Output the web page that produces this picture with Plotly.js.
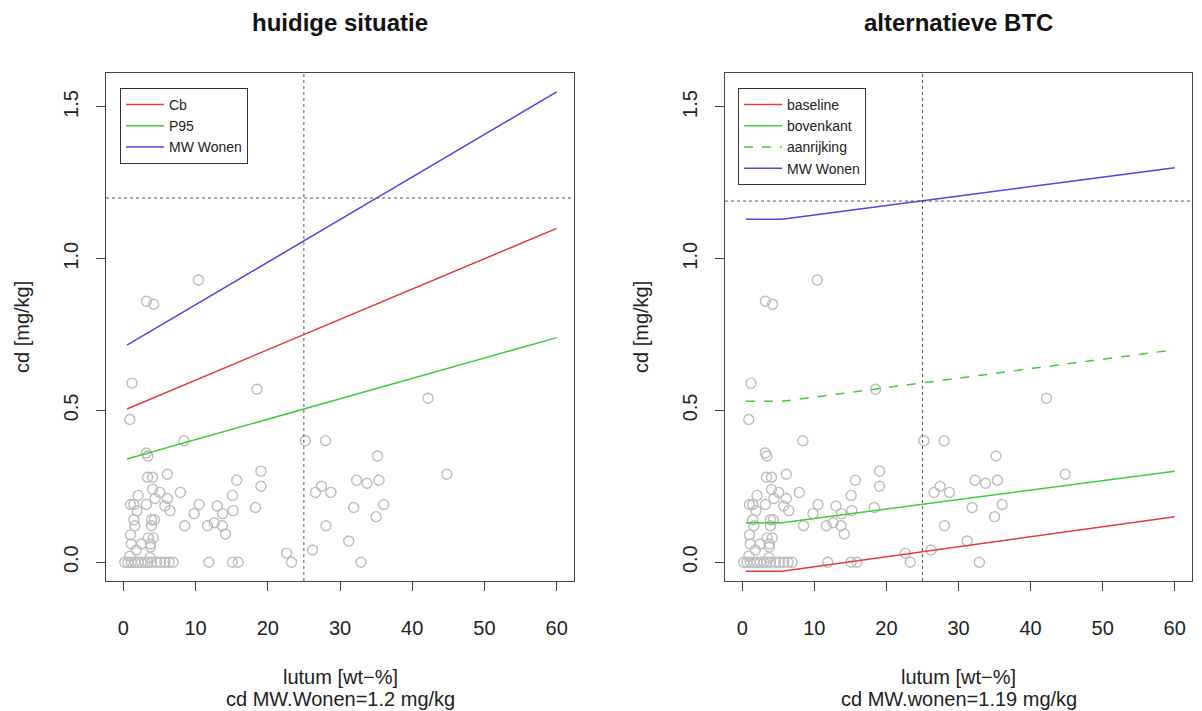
<!DOCTYPE html>
<html><head><meta charset="utf-8">
<script src="https://cdn.plot.ly/plotly-3.0.1.min.js"></script>
<style>body{margin:0;background:#fff}#chart{width:1202px;height:711px}</style>
</head><body><div id="chart"></div>
<script>
// observed samples (same in both panels)
const lutum = [10.4,3.2,4.2,1.2,18.5,42.2,0.9,8.4,25.2,28.0,3.2,3.4,35.2,19.05,6.1,44.8,3.35,4.05,15.7,32.3,35.4,33.75,19.05,27.45,4.05,5.05,7.9,26.6,28.75,2.05,15.1,4.4,6.1,1.0,1.45,3.2,10.5,36.05,5.75,13.0,18.3,31.9,6.45,1.9,15.2,9.8,13.75,35.0,1.45,3.9,4.3,1.6,3.9,8.5,11.65,13.7,28.05,12.6,14.15,1.0,3.45,4.15,31.2,1.1,2.5,3.75,1.8,3.75,26.2,22.6,0.9,3.7,
  0.2,0.65,1.1,1.6,2.05,2.5,3.0,3.4,3.9,4.6,5.15,5.75,6.35,6.9,11.85,15.1,15.9,23.3,32.9];
const cd = [0.93,0.86,0.85,0.59,0.57,0.54,0.47,0.40,0.40,0.40,0.36,0.35,0.35,0.30,0.29,0.29,0.28,0.28,0.27,0.27,0.27,0.26,0.25,0.25,0.24,0.23,0.23,0.23,0.23,0.22,0.22,0.21,0.21,0.19,0.19,0.19,0.19,0.19,0.185,0.185,0.18,0.18,0.17,0.17,0.17,0.16,0.16,0.15,0.14,0.14,0.14,0.12,0.12,0.12,0.12,0.12,0.12,0.13,0.093,0.09,0.08,0.08,0.07,0.06,0.06,0.06,0.04,0.05,0.04,0.03,0.02,0.015,
  0,0,0,0,0,0,0,0,0,0,0,0,0,0,0,0,0,0,0];

// left panel: huidige situatie
const lineXLeft = [0.5, 60];
const cbLeft = [0.505, 1.10];
const p95Left = [0.34, 0.74];
const mwLeft = [0.715, 1.55];

// right panel: alternatieve BTC
const lineXRight = [0.5, 5.5, 60];
const baselineRight = [-0.03, -0.03, 0.15];
const bovenkantRight = [0.13, 0.13, 0.30];
const aanrijkingRight = [0.53, 0.53, 0.70];
const mwRight = [1.13, 1.13, 1.30];

const refLutum = 25;
const refMWLeft = 1.2;
const refMWRight = 1.19;

const xTicks = [0,10,20,30,40,50,60];
const xTickText = ['0','10','20','30','40','50','60'];
const yTicks = [0, 0.5, 1.0, 1.5];
const yTickText = ['0.0','0.5','1.0','1.5'];

const RED = '#E8393A', GREEN = '#3FCC3F', BLUE = '#5A3FE6', PTS = '#BDBDBD';
const FONT = 'Liberation Sans, Arial, Helvetica, sans-serif';

const pts = (xa, ya) => ({x: lutum, y: cd, xaxis: xa, yaxis: ya, type: 'scatter', mode: 'markers',
  marker: {symbol: 'circle-open', size: 10, color: PTS, line: {width: 1.4, color: PTS}}, showlegend: false, hoverinfo: 'skip'});
const ln = (x, y, name, color, xa, ya, legend, dash) => ({x, y, name, xaxis: xa, yaxis: ya, type: 'scatter', mode: 'lines',
  line: {color, width: 1.5, dash: dash || 'solid'}, legend});

const traces = [
  pts('x', 'y'),
  ln(lineXLeft, cbLeft, 'Cb', RED, 'x', 'y', 'legend'),
  ln(lineXLeft, p95Left, 'P95', GREEN, 'x', 'y', 'legend'),
  ln(lineXLeft, mwLeft, 'MW Wonen', BLUE, 'x', 'y', 'legend'),
  pts('x2', 'y2'),
  ln(lineXRight, baselineRight, 'baseline', RED, 'x2', 'y2', 'legend2'),
  ln(lineXRight, bovenkantRight, 'bovenkant', GREEN, 'x2', 'y2', 'legend2'),
  ln(lineXRight, aanrijkingRight, 'aanrijking', GREEN, 'x2', 'y2', 'legend2', 'dash'),
  ln(lineXRight, mwRight, 'MW Wonen', BLUE, 'x2', 'y2', 'legend2')
];

const W = 1202, H = 711;
const yDom = [(H - 581) / H, (H - 73) / H];
const xaxisBase = {range: [-2.4, 62.4], tickvals: xTicks, ticktext: xTickText, ticks: 'outside', ticklen: 9, tickwidth: 1,
  tickcolor: '#444', showline: true, mirror: true, linecolor: '#444', linewidth: 1, showgrid: false, zeroline: false,
  tickfont: {size: 20, color: '#222', family: FONT}, ticklabelstandoff: 20, fixedrange: true};
const yaxisBase = {range: [-0.062, 1.612], tickvals: yTicks, ticktext: yTickText, ticks: 'outside', ticklen: 9, tickwidth: 1,
  tickcolor: '#444', showline: true, mirror: true, linecolor: '#444', linewidth: 1, showgrid: false, zeroline: false,
  tickangle: -90, tickfont: {size: 20, color: '#222', family: FONT}, ticklabelstandoff: 10, domain: yDom, fixedrange: true};

const dotted = {color: '#555', width: 1, dash: 'dot'};
const legendBase = {bgcolor: '#fff', bordercolor: '#333', borderwidth: 1, font: {size: 14, family: FONT, color: '#222'},
  xanchor: 'left', yanchor: 'top', tracegroupgap: 0, itemwidth: 38};

const layout = {
  width: W, height: H, margin: {l: 0, r: 0, t: 0, b: 0}, paper_bgcolor: '#fff', plot_bgcolor: '#fff',
  font: {family: FONT, color: '#222'},
  xaxis: Object.assign({}, xaxisBase, {domain: [106 / W, 574 / W], anchor: 'y'}),
  yaxis: Object.assign({}, yaxisBase, {anchor: 'x'}),
  xaxis2: Object.assign({}, xaxisBase, {domain: [725 / W, 1192 / W], anchor: 'y2'}),
  yaxis2: Object.assign({}, yaxisBase, {anchor: 'x2'}),
  legend: Object.assign({}, legendBase, {x: 120 / W, y: (H - 88) / H}),
  legend2: Object.assign({}, legendBase, {x: 738 / W, y: (H - 88) / H}),
  shapes: [
    {type: 'line', xref: 'x', yref: 'y domain', x0: refLutum, x1: refLutum, y0: 0, y1: 1, line: dotted},
    {type: 'line', xref: 'x domain', yref: 'y', x0: 0, x1: 1, y0: refMWLeft, y1: refMWLeft, line: dotted},
    {type: 'line', xref: 'x2', yref: 'y2 domain', x0: refLutum, x1: refLutum, y0: 0, y1: 1, line: dotted},
    {type: 'line', xref: 'x2 domain', yref: 'y2', x0: 0, x1: 1, y0: refMWRight, y1: refMWRight, line: dotted}
  ],
  annotations: [
    {text: '<b>huidige situatie</b>', xref: 'x domain', yref: 'paper', x: 0.5, y: (H - 22) / H, showarrow: false, font: {size: 24, color: '#111'}, yanchor: 'middle'},
    {text: '<b>alternatieve BTC</b>', xref: 'x2 domain', yref: 'paper', x: 0.5, y: (H - 22) / H, showarrow: false, font: {size: 24, color: '#111'}, yanchor: 'middle'},
    {text: 'lutum [wt−%]', xref: 'x domain', yref: 'paper', x: 0.5, y: (H - 677) / H, showarrow: false, font: {size: 20, color: '#222'}, yanchor: 'middle'},
    {text: 'cd MW.Wonen=1.2 mg/kg', xref: 'x domain', yref: 'paper', x: 0.5, y: (H - 699) / H, showarrow: false, font: {size: 20, color: '#222'}, yanchor: 'middle'},
    {text: 'lutum [wt−%]', xref: 'x2 domain', yref: 'paper', x: 0.5, y: (H - 677) / H, showarrow: false, font: {size: 20, color: '#222'}, yanchor: 'middle'},
    {text: 'cd MW.wonen=1.19 mg/kg', xref: 'x2 domain', yref: 'paper', x: 0.5, y: (H - 699) / H, showarrow: false, font: {size: 20, color: '#222'}, yanchor: 'middle'},
    {text: 'cd [mg/kg]', xref: 'paper', yref: 'y domain', x: 22 / W, y: 0.5, textangle: -90, showarrow: false, font: {size: 20, color: '#222'}, xanchor: 'center'},
    {text: 'cd [mg/kg]', xref: 'paper', yref: 'y2 domain', x: 641 / W, y: 0.5, textangle: -90, showarrow: false, font: {size: 20, color: '#222'}, xanchor: 'center'}
  ]
};

Plotly.newPlot('chart', traces, layout, {displayModeBar: false, staticPlot: true});
</script>
</body></html>
